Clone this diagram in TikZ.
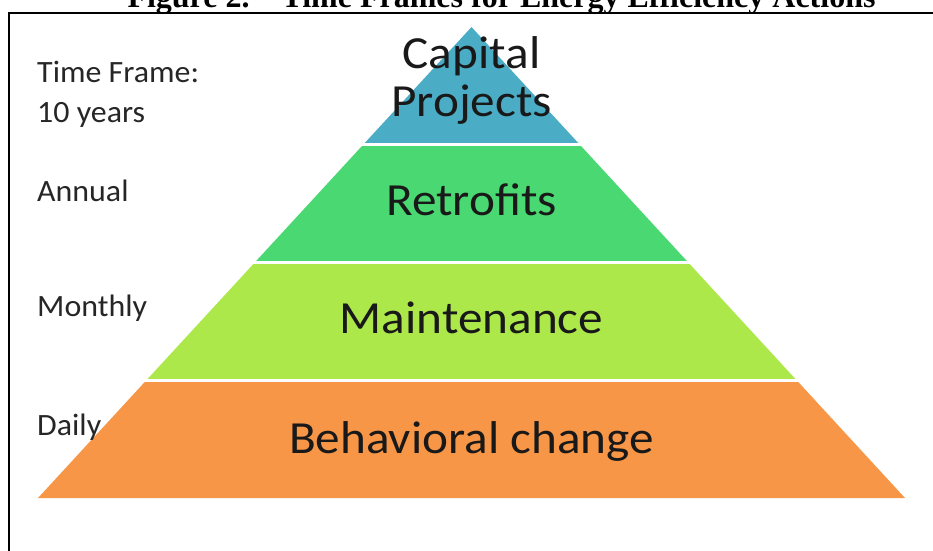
\documentclass[tikz,border=0pt]{standalone}
\usepackage{fontspec}
\setmainfont{Carlito}
\newfontfamily\titlefont{Liberation Serif}
\newfontfamily\bandfont[FakeStretch=1.07]{Carlito}
\newfontfamily\sidefont[FakeStretch=1.03]{Carlito}

\definecolor{capblue}{HTML}{4BACC6}
\definecolor{retrogreen}{HTML}{4AD872}
\definecolor{maintgreen}{HTML}{ADE84A}
\definecolor{behavorange}{HTML}{F79646}

\begin{document}
\begin{tikzpicture}[x=1pt,y=-1pt,
	bandtext/.style={font=\bandfont\fontsize{46}{48.4}\selectfont, text=black!90, align=center, inner sep=0pt, anchor=base},
	sidetext/.style={font=\sidefont\fontsize{31}{40}\selectfont, text=black!85, align=left, inner sep=0pt, anchor=base west}]

		\useasboundingbox (0,0) rectangle (933,550);

		\def\Ax{471.5}
		\def\Ay{27}
		\def\H{117.75}
		\def\k{0.9204}
		\def\lx{37}

		    % Titre et cadre
		    \node[font=\titlefont\bfseries\fontsize{32}{32}\selectfont, inner sep=0pt, anchor=base] (title) at (501.5,7) {Figure 2.\quad Time Frames for Energy Efficiency Actions};

		    \draw[line width=2pt] (9,560) -- (9,13) -- (945,13);

		    % Les etages de la pyramide
		    \foreach \i/\col in {0/capblue,1/retrogreen,2/maintgreen,3/behavorange}{
		        \fill[\col] (\Ax-\k*\i*\H, \Ay+\i*\H) -- (\Ax+\k*\i*\H, \Ay+\i*\H)
		            -- (\Ax+\k*\i*\H+\k*\H, \Ay+\i*\H+\H) -- (\Ax-\k*\i*\H-\k*\H, \Ay+\i*\H+\H) -- cycle;
		    }

		    % On separe les etages
		    \foreach \i in {1,2,3}{
		        \draw[white, line width=3pt] (\Ax-\k*\i*\H-6, \Ay+\i*\H) -- (\Ax+\k*\i*\H+6, \Ay+\i*\H);
		    }

		    % Textes des etages (base = derniere ligne)
		    \node[bandtext] (capital) at (\Ax,116.7) {Capital\\Projects};
		    \node[bandtext] (retrofits) at (\Ax,215) {Retrofits};
		    \node[bandtext] (maintenance) at (\Ax,333.3) {Maintenance};
		    \node[bandtext] (behavior) at (\Ax,453.3) {Behavioral change};

		    % Echelles de temps
		    \node[sidetext] (timeframe) at (\lx,122.7) {Time Frame:\\10 years};
		    \node[sidetext] (annual) at (\lx,201.7) {Annual};
		    \node[sidetext] (monthly) at (\lx,316.7) {Monthly};
		    \node[sidetext] (daily) at (\lx,435) {Daily};

\end{tikzpicture}
\end{document}
